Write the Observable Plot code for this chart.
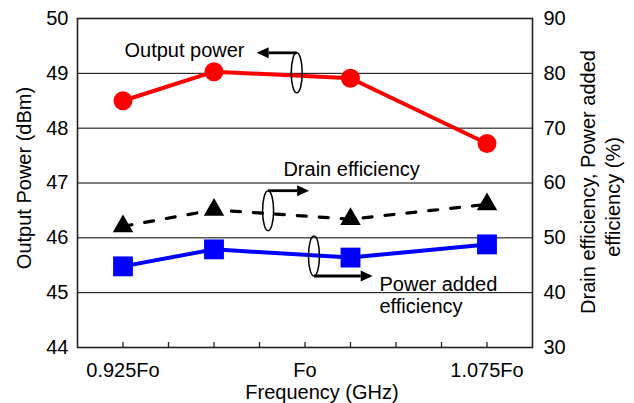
<!DOCTYPE html>
<html>
<head>
<meta charset="utf-8">
<script src="https://cdn.jsdelivr.net/npm/d3@7"></script>
<script src="https://cdn.jsdelivr.net/npm/@observablehq/plot@0.6"></script>
<style>
  html, body { margin: 0; padding: 0; background: white; }
</style>
</head>
<body>
<div id="chart"></div>
<script>
// ---- data ----
const freq = [0.925, 0.9625, 1.01875, 1.075];           // ×Fo
const outputPower = [48.50, 49.03, 48.91, 47.72];        // dBm (left axis)
const drainEff = [52.1, 55.1, 53.4, 56.1];              // % (right axis)
const pae = [44.8, 47.9, 46.4, 48.8];                    // % (right axis)

const xMinorTicks = [0.925, 0.94375, 0.9625, 0.98125, 1.0, 1.01875, 1.0375, 1.05625, 1.075];
const xLabelTicks = [0.925, 1.0, 1.075];
const xLabels = ["0.925Fo", "Fo", "1.075Fo"];
const leftTicks = [44, 45, 46, 47, 48, 49, 50];
const rightLabels = [30, 40, 50, 60, 70, 80, 90];
const gridLines = [45, 46, 47, 48, 49];

// annotations (data coordinates: frequency, dBm)
const annNames = ["Output power", "Drain efficiency", "Power added\nefficiency"];
const annTextX = [0.9256, 0.9911, 1.0307];
const annTextY = [49.584, 47.414, 45.311];
const annEllX = [0.9968, 0.985, 1.0039];
const annEllY = [49.0, 46.486, 45.66];
const annTipX = [0.9803, 1.0019, 1.0281];
const annSide = ["top", "top", "bottom"];

// efficiency (%) expressed on the left (dBm) scale: 30% ↔ 44, 90% ↔ 50
const effToLeft = (e) => 41 + e / 10;

const rows = freq.map((f, i) => ({f, p: outputPower[i], de: drainEff[i], pae: pae[i]}));
const ann = annNames.map((t, i) => ({t, x: annTextX[i], y: annTextY[i]}));

const font = "Liberation Sans, Arial, Helvetica, sans-serif";

function annotations(index, scales) {
  const {x, y} = scales;
  const g = d3.create("svg:g");
  const rx = 5.5, ry = 20;
  annEllX.forEach((ex, i) => {
    const cx = x(ex), cy = y(annEllY[i]);
    g.append("ellipse")
      .attr("cx", cx).attr("cy", cy).attr("rx", rx).attr("ry", ry)
      .attr("fill", "none").attr("stroke", "black").attr("stroke-width", 1.5);
    const ay = annSide[i] === "top" ? cy - ry : cy + ry;
    const tx = x(annTipX[i]);
    const dir = Math.sign(tx - cx);
    const headLen = 12, headHalf = 5.5;
    g.append("line")
      .attr("x1", cx).attr("y1", ay)
      .attr("x2", tx - dir * headLen).attr("y2", ay)
      .attr("stroke", "black").attr("stroke-width", 2.8);
    g.append("path")
      .attr("d", `M${tx},${ay}L${tx - dir * headLen},${ay - headHalf}L${tx - dir * headLen},${ay + headHalf}Z`)
      .attr("fill", "black");
  });
  return g.node();
}

const chart = Plot.plot({
  width: 634,
  height: 403,
  marginLeft: 77,
  marginRight: 102,
  marginTop: 18,
  marginBottom: 56,
  style: {fontSize: "20px", fontFamily: font, color: "black", background: "white"},
  x: {domain: [0.90625, 1.09375]},
  y: {domain: [44, 50]},
  marks: [
    Plot.ruleY(gridLines, {stroke: "black", strokeWidth: 1}),
    Plot.ruleX(xMinorTicks, {y1: 44, y2: 44 + 5 / 54.83, stroke: "#222", strokeWidth: 1.3}),
    Plot.frame({stroke: "#222", strokeWidth: 1.6}),
    Plot.axisY({anchor: "left", ticks: leftTicks, tickSize: 0, tickPadding: 9, fontSize: 20, label: null,
      tickFormat: (d) => String(d)}),
    Plot.axisY({anchor: "right", ticks: leftTicks, tickSize: 0, tickPadding: 11, fontSize: 20, label: null,
      tickFormat: (d) => String(rightLabels[leftTicks.indexOf(d)])}),
    Plot.axisX({ticks: xLabelTicks, tickSize: 0, tickPadding: 15, fontSize: 20, label: null,
      tickFormat: (d) => xLabels[xLabelTicks.indexOf(d)]}),
    // axis titles
    Plot.text(["Output Power (dBm)"], {text: (d) => d, frameAnchor: "left", textAnchor: "middle", lineAnchor: "middle",
      dx: -53, dy: -5, rotate: -90, fontSize: 20}),
    Plot.text(["Drain efficiency, Power added"], {text: (d) => d, frameAnchor: "right", textAnchor: "middle", lineAnchor: "middle",
      dx: 56, dy: -1, rotate: -90, fontSize: 20}),
    Plot.text(["efficiency (%)"], {text: (d) => d, frameAnchor: "right", textAnchor: "middle", lineAnchor: "middle",
      dx: 81, dy: 14, rotate: -90, fontSize: 20}),
    Plot.text(["Frequency (GHz)"], {text: (d) => d, frameAnchor: "bottom", textAnchor: "middle", lineAnchor: "middle",
      dx: 17, dy: 45.5, fontSize: 20}),
    // series
    Plot.line(rows, {x: "f", y: (d) => effToLeft(d.de), stroke: "black", strokeWidth: 3.2, strokeDasharray: "9,13"}),
    Plot.line(rows, {x: "f", y: (d) => effToLeft(d.pae), stroke: "#0000ff", strokeWidth: 4}),
    Plot.line(rows, {x: "f", y: "p", stroke: "#ff0000", strokeWidth: 4}),
    Plot.dot(rows, {x: "f", y: (d) => effToLeft(d.de), symbol: "triangle", r: 7.6, fill: "black", stroke: "none"}),
    Plot.dot(rows, {x: "f", y: (d) => effToLeft(d.pae), symbol: "square", r: 11.2, fill: "#0000ff", stroke: "none"}),
    Plot.dot(rows, {x: "f", y: "p", r: 9.5, fill: "#ff0000", stroke: "none"}),
    // annotations
    Plot.text(ann, {x: "x", y: "y", text: "t", textAnchor: "start", fontSize: 20, lineHeight: 1.08, lineAnchor: "top"}),
    annotations
  ]
});
document.getElementById("chart").appendChild(chart);
</script>
</body>
</html>
